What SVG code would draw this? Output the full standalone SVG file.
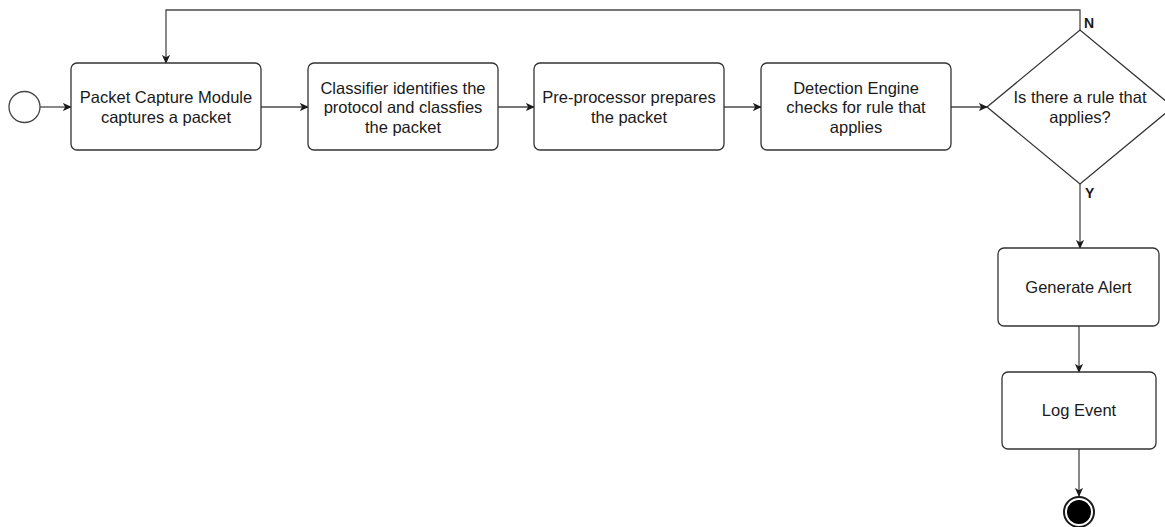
<svg xmlns="http://www.w3.org/2000/svg" width="1165" height="527" viewBox="0 0 1165 527">
  <style>
    .box { fill: #ffffff; stroke: #333333; stroke-width: 1.3; }
    .lbl { font-family: "Liberation Sans", Arial, sans-serif; font-size: 16.5px; fill: #1a1a1a; text-anchor: middle; }
    .tag { font-family: "Liberation Sans", Arial, sans-serif; font-size: 14px; font-weight: bold; fill: #1a1a1a; }
    .edge { fill: none; stroke: #4a4a4a; stroke-width: 1.3; }
  </style>
  <defs>
    <marker id="arrow" viewBox="0 0 10 10" refX="9" refY="5" markerWidth="9" markerHeight="9" markerUnits="userSpaceOnUse" orient="auto">
      <path d="M0,0.5 L10,5 L0,9.5 L2.5,5 Z" fill="#1a1a1a"/>
    </marker>
  </defs>
  <rect width="1165" height="527" fill="#ffffff"/>

  <!-- connectors -->
  <g id="connectors">
    <path class="edge" d="M40,107 L71,107" marker-end="url(#arrow)"/>
    <path class="edge" d="M261,107 L308,107" marker-end="url(#arrow)"/>
    <path class="edge" d="M498,107 L534,107" marker-end="url(#arrow)"/>
    <path class="edge" d="M724,107 L761,107" marker-end="url(#arrow)"/>
    <path class="edge" d="M951,107 L987,107" marker-end="url(#arrow)"/>
    <path class="edge" d="M1080,30 L1080,10 L166,10 L166,63" marker-end="url(#arrow)"/>
    <path class="edge" d="M1080,184 L1080,248" marker-end="url(#arrow)"/>
    <path class="edge" d="M1079,326 L1079,372" marker-end="url(#arrow)"/>
    <path class="edge" d="M1079,449 L1079,496" marker-end="url(#arrow)"/>
    <text class="tag" x="1084" y="28">N</text>
    <text class="tag" x="1085" y="198">Y</text>
  </g>

  <!-- start -->
  <g id="start">
    <circle cx="24.5" cy="107" r="15.5" fill="#ffffff" stroke="#444444" stroke-width="1.3"/>
  </g>

  <g id="capture">
    <rect class="box" x="71" y="63" width="190" height="87" rx="6"/>
    <text class="lbl" x="166" y="103">Packet Capture Module</text>
    <text class="lbl" x="166" y="123">captures a packet</text>
  </g>

  <g id="classifier">
    <rect class="box" x="308" y="63" width="190" height="87" rx="6"/>
    <text class="lbl" x="403" y="94">Classifier identifies the</text>
    <text class="lbl" x="403" y="113">protocol and classfies</text>
    <text class="lbl" x="403" y="133">the packet</text>
  </g>

  <g id="preprocessor">
    <rect class="box" x="534" y="63" width="190" height="87" rx="6"/>
    <text class="lbl" x="629" y="103">Pre-processor prepares</text>
    <text class="lbl" x="629" y="123">the packet</text>
  </g>

  <g id="detection">
    <rect class="box" x="761" y="63" width="190" height="87" rx="6"/>
    <text class="lbl" x="856" y="94">Detection Engine</text>
    <text class="lbl" x="856" y="113">checks for rule that</text>
    <text class="lbl" x="856" y="133">applies</text>
  </g>

  <g id="decision">
    <polygon class="box" points="987,107 1080,30 1173,107 1080,184"/>
    <text class="lbl" x="1080" y="103">Is there a rule that</text>
    <text class="lbl" x="1080" y="123">applies?</text>
  </g>

  <g id="alert">
    <rect class="box" x="998" y="248" width="161" height="78" rx="6"/>
    <text class="lbl" x="1078.5" y="293">Generate Alert</text>
  </g>

  <g id="log">
    <rect class="box" x="1002" y="372" width="154" height="77" rx="6"/>
    <text class="lbl" x="1079" y="416">Log Event</text>
  </g>

  <!-- end -->
  <g id="end">
    <circle cx="1079" cy="512" r="15" fill="#ffffff" stroke="#1a1a1a" stroke-width="2"/>
    <circle cx="1079" cy="512" r="12" fill="#000000"/>
  </g>
</svg>
